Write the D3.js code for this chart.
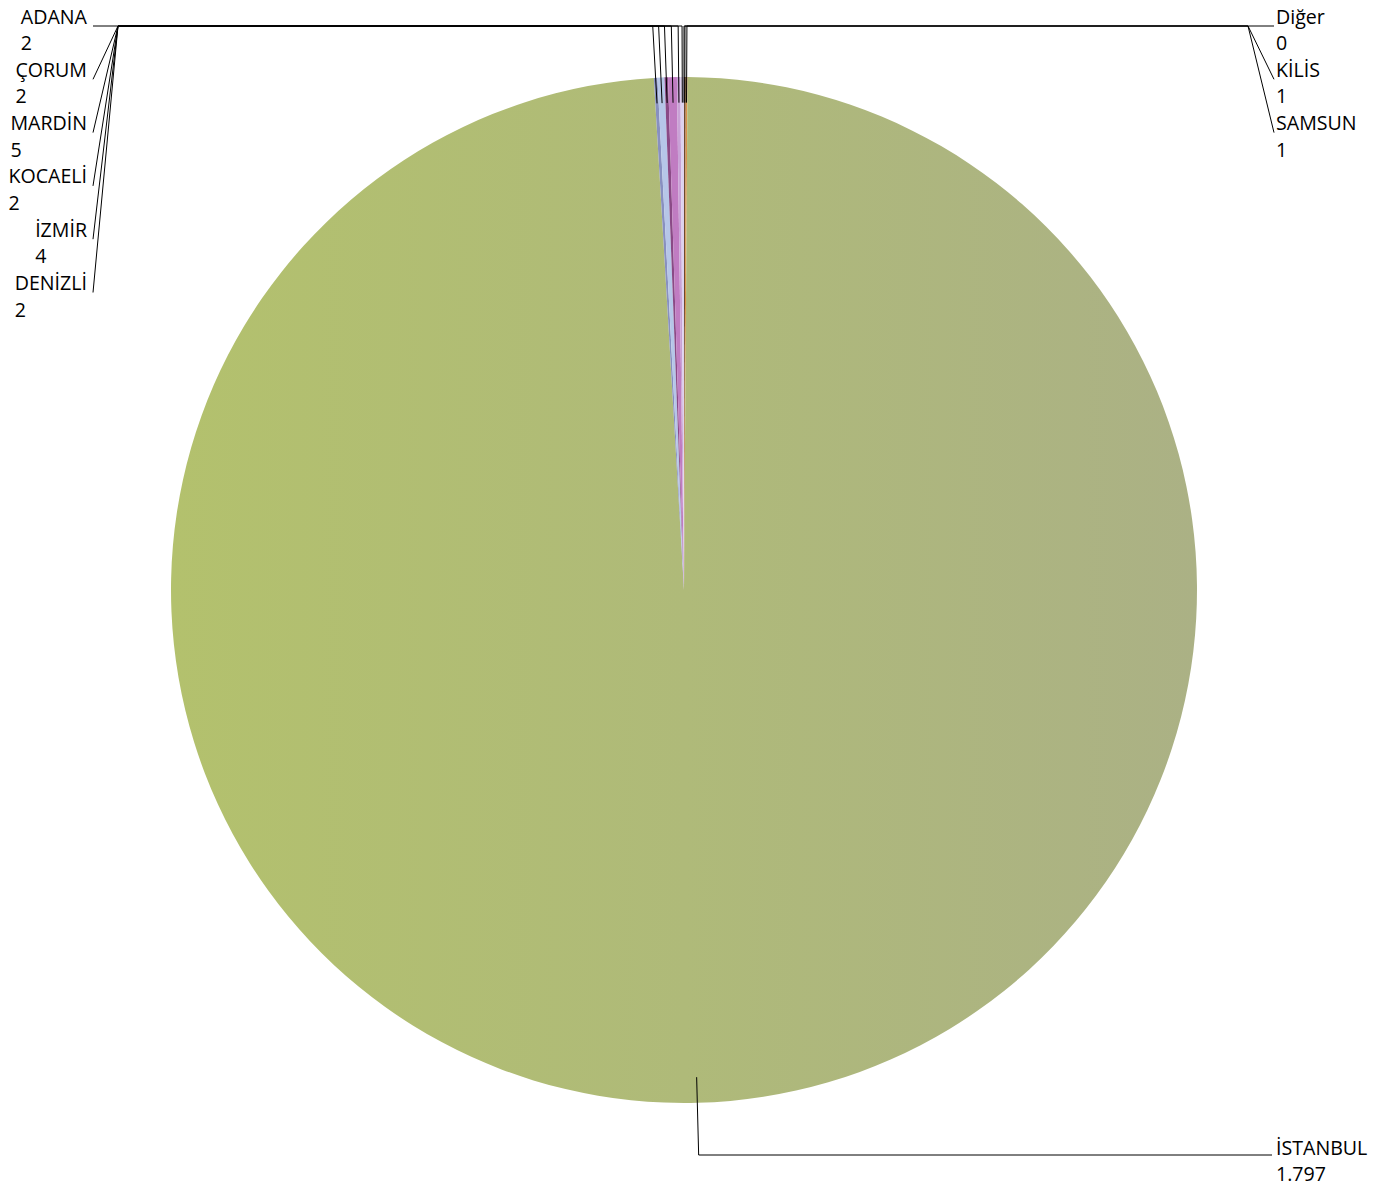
<!DOCTYPE html>
<meta charset="utf-8">
<script src="https://cdn.jsdelivr.net/npm/d3@7"></script>
<style>
  body { margin: 0; background: #fff; }
  text { font-family: "Open Sans", sans-serif; font-size: 19.6px; fill: #000; }
</style>
<body>
<div id="chart"></div>
<script>
// slices clockwise from 12 o'clock
var cities = ["Diğer", "KİLİS", "SAMSUN", "İSTANBUL", "DENİZLİ", "İZMİR", "KOCAELİ", "MARDİN", "ÇORUM", "ADANA"]
var counts = [0, 1, 1, 1797, 2, 4, 2, 5, 2, 2]
var sliceColors = ["#8a8a8a", "#6b4a2e", "#d8904a", "#afba78", "#8890c0", "#b6c6e8", "#8a4a86", "#c07cc2", "#c9a2d6", "#ddd2ee"]

var width = 1388, height = 1189
var cx = 684, cy = 590, radius = 513
var topY = 26, bottomY = 1155
var rowStep = 53.3, lineStep = 26.5

var trFormat = d3.formatLocale({decimal: ",", thousands: ".", grouping: [3], currency: ["", "₺"]}).format(",")

var svg = d3.select("#chart").append("svg")
  .attr("width", width)
  .attr("height", height)

// gradient is in the pie group's coordinates (centre = 0,0)
var defs = svg.append("defs")
var grad = defs.append("linearGradient")
  .attr("id", "istGrad")
  .attr("gradientUnits", "userSpaceOnUse")
  .attr("x1", -radius).attr("y1", 0)
  .attr("x2", radius).attr("y2", 0)
grad.append("stop").attr("offset", "0%").attr("stop-color", "#b3c16d")
grad.append("stop").attr("offset", "50%").attr("stop-color", "#afba79")
grad.append("stop").attr("offset", "100%").attr("stop-color", "#abb185")

var color = d3.scaleOrdinal().domain(cities).range(sliceColors)

var pie = d3.pie().sort(null).value(function(d) { return d.value })
var data = cities.map(function(c, i) { return {name: c, value: counts[i]} })
var arcs = pie(data)

var arc = d3.arc().innerRadius(0).outerRadius(radius)

var g = svg.append("g").attr("transform", "translate(" + cx + "," + cy + ")")

g.selectAll("path")
  .data(arcs)
  .enter()
  .append("path")
  .attr("d", arc)
  .attr("fill", function(d) { return d.data.name == "İSTANBUL" ? "url(#istGrad)" : color(d.data.name) })

// ----- label groups
var leftGroup = [], rightGroup = [], bottomGroup = []
arcs.forEach(function(d) {
  var mid = (d.startAngle + d.endAngle) / 2
  d.mid = mid
  if (Math.cos(mid) < 0) bottomGroup.push(d)
  else if (mid > Math.PI) leftGroup.push(d)
  else rightGroup.push(d)
})
leftGroup.sort(function(a, b) { return b.mid - a.mid })
rightGroup.sort(function(a, b) { return a.mid - b.mid })

var lines = svg.append("g")
  .attr("fill", "none")
  .attr("stroke", "#000")
  .attr("stroke-width", 1)

function anchorPts(d, yElbow) {
  var r0 = radius * 0.95
  var ax = cx + r0 * Math.sin(d.mid), ay = cy - r0 * Math.cos(d.mid)
  var k = (cy - yElbow) / (r0 * Math.cos(d.mid))
  var ex = cx + r0 * Math.sin(d.mid) * k
  return [[ax, ay], [ex, yElbow]]
}

function addLabel(x, y, d, rightEdge) {
  var name = svg.append("text")
    .attr("x", x).attr("y", y)
    .attr("dominant-baseline", "central")
    .text(d.data.name)
  var val = svg.append("text")
    .attr("x", x).attr("y", y + lineStep)
    .attr("dominant-baseline", "central")
    .text(trFormat(d.data.value))
  if (rightEdge) {
    var w = Math.max(name.node().getComputedTextLength(), val.node().getComputedTextLength())
    name.attr("x", rightEdge - w)
    val.attr("x", rightEdge - w)
  }
}

leftGroup.forEach(function(d, i) {
  var ly = 16 + i * rowStep
  var p = anchorPts(d, topY)
  lines.append("path").attr("d", d3.line()([p[0], p[1], [118, topY], [93, ly + 10]]))
  addLabel(0, ly, d, 87)
})

rightGroup.forEach(function(d, i) {
  var ly = 16 + i * rowStep
  var p = anchorPts(d, topY)
  lines.append("path").attr("d", d3.line()([p[0], p[1], [1248, topY], [1274, ly + 10]]))
  addLabel(1276, ly, d)
})

bottomGroup.forEach(function(d, i) {
  var ly = 1147 - i * rowStep
  var p = anchorPts(d, bottomY)
  lines.append("path").attr("d", d3.line()([p[0], p[1], [1272, bottomY]]))
  addLabel(1276, ly, d)
})
</script>
</body>
